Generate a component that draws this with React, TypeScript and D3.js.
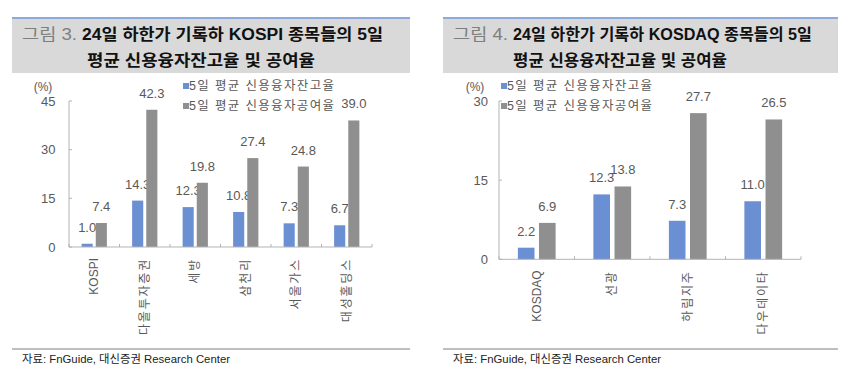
import React from "react";
import * as d3 from "d3";

const seriesNames = ["5일 평균 신용융자잔고율", "5일 평균 신용융자공여율"];
const seriesColors = ["#6b8fd3", "#8f8f8f"];

const kospiCategories = ["KOSPI", "다올투자증권", "세방", "삼천리", "서울가스", "대성홀딩스"];
const kospiBalance = [1.0, 14.3, 12.3, 10.8, 7.3, 6.7];
const kospiLending = [7.4, 42.3, 19.8, 27.4, 24.8, 39.0];
const kospiTicks = [0, 15, 30, 45];

const kosdaqCategories = ["KOSDAQ", "선광", "하림지주", "다우데이타"];
const kosdaqBalance = [2.2, 12.3, 7.3, 11.0];
const kosdaqLending = [6.9, 13.8, 27.7, 26.5];
const kosdaqTicks = [0, 15, 30];

const FONT = "'Liberation Sans', Arial, 'Noto Sans CJK KR', sans-serif";
const TXT = "#595959";
const AXIS = "#b3b3b3";

type PanelProps = {
  boxX: number;
  boxW: number;
  figLabel: string;
  title1: string;
  title2: string;
  titleX: number;
  title2X: number;
  t1Len: number;
  t2Len: number;
  categories: string[];
  balance: number[];
  lending: number[];
  ticks: number[];
  yMax: number;
  y0: number;
  yTop: number;
  xStart: number;
  xEnd: number;
  unitX: number;
  tickRight: number;
  legendX: number;
  sourceX: number;
};

const isLatin = (s: string) => /^[A-Za-z]+$/.test(s);

function Panel(p: PanelProps) {
  const y = d3.scaleLinear().domain([0, p.yMax]).range([p.y0, p.yTop]);
  const x0 = d3.scaleBand<string>().domain(p.categories).range([p.xStart, p.xEnd]).padding(0);
  const bw = x0.bandwidth();
  const x1 = d3
    .scaleBand<number>()
    .domain([0, 1])
    .range([bw * 0.25, bw * 0.75])
    .paddingInner(0.214)
    .paddingOuter(0);
  const series = [p.balance, p.lending];
  const boundaries = p.categories.map((c) => x0(c) as number).concat([p.xEnd]);

  return (
    <g>
      {/* title box */}
      <rect x={p.boxX} y={18} width={p.boxW} height={55} fill="#d9d9d9" />
      <line x1={p.boxX} x2={p.boxX + p.boxW} y1={18} y2={18} stroke="#8eaadb" strokeWidth={2} />
      <text
        x={p.boxX + 10}
        y={40}
        fontSize={16}
        fill="#7f7f7f"
        fontFamily={FONT}
        textLength={55}
        lengthAdjust="spacingAndGlyphs"
      >
        {p.figLabel}
      </text>
      <text
        x={p.titleX}
        y={40}
        fontSize={16}
        fontWeight="bold"
        fill="#111"
        fontFamily={FONT}
        textLength={p.t1Len}
        lengthAdjust="spacingAndGlyphs"
      >
        {p.title1}
      </text>
      <text
        x={p.title2X}
        y={66}
        fontSize={16}
        fontWeight="bold"
        fill="#111"
        fontFamily={FONT}
        textLength={p.t2Len}
        lengthAdjust="spacingAndGlyphs"
      >
        {p.title2}
      </text>

      {/* unit */}
      <text x={p.unitX} y={87} fontSize={12} fill={TXT} fontFamily={FONT} textAnchor="middle" dominantBaseline="central">
        (%)
      </text>

      {/* y ticks */}
      {p.ticks.map((t) => (
        <g key={t}>
          <text
            x={p.tickRight}
            y={y(t)}
            fontSize={13}
            fill={TXT}
            fontFamily={FONT}
            textAnchor="end"
            dominantBaseline="central"
          >
            {t}
          </text>
          <line x1={p.xStart} x2={p.xStart + 3} y1={y(t)} y2={y(t)} stroke={AXIS} />
        </g>
      ))}

      {/* bars */}
      {p.categories.map((c, i) => (
        <g key={c}>
          {series.map((s, si) => {
            const bx = (x0(c) as number) + (x1(si) as number);
            const v = s[i];
            return (
              <g key={si}>
                <rect x={bx} y={y(v)} width={x1.bandwidth()} height={y(0) - y(v)} fill={seriesColors[si]} />
                <text
                  x={bx + x1.bandwidth() / 2}
                  y={y(v) - 12}
                  fontSize={13}
                  fill={TXT}
                  fontFamily={FONT}
                  textAnchor="middle"
                >
                  {v.toFixed(1)}
                </text>
              </g>
            );
          })}
          <text
            transform={`translate(${(x0(c) as number) + bw / 2},${p.y0 + 11}) rotate(-90)`}
            fontSize={12}
            fill={TXT}
            fontFamily={FONT}
            textAnchor="end"
            dominantBaseline="central"
            letterSpacing={isLatin(c) ? 0 : 1.8}
          >
            {c}
          </text>
        </g>
      ))}

      {/* axes */}
      <line x1={p.xStart} x2={p.xStart} y1={y(p.yMax)} y2={p.y0} stroke={AXIS} />
      <line x1={p.xStart} x2={p.xEnd} y1={p.y0} y2={p.y0} stroke={AXIS} />
      {boundaries.map((b, i) => (
        <line key={i} x1={b} x2={b} y1={p.y0} y2={p.y0 - 3} stroke={AXIS} />
      ))}

      {/* legend */}
      {seriesNames.map((n, i) => (
        <g key={n}>
          <rect x={p.legendX} y={83 + i * 20} width={6} height={6} fill={seriesColors[i]} />
          <text
            x={p.legendX + 6}
            y={86 + i * 20}
            fontSize={12.5}
            fill={TXT}
            fontFamily={FONT}
            dominantBaseline="central"
            textLength={145}
            lengthAdjust="spacing"
          >
            {n}
          </text>
        </g>
      ))}

      {/* source */}
      <line x1={p.boxX} x2={p.boxX + p.boxW} y1={349} y2={349} stroke="#7f7f7f" strokeWidth={1} />
      <text
        x={p.sourceX}
        y={363}
        fontSize={11}
        fill="#222"
        fontFamily={FONT}
        textLength={208}
        lengthAdjust="spacingAndGlyphs"
      >
        자료: FnGuide, 대신증권 Research Center
      </text>
    </g>
  );
}

export default function App() {
  return (
    <svg
      width={850}
      height={376}
      style={{ position: "absolute", left: 0, top: 0, background: "#fff" }}
    >
      <rect width={850} height={376} fill="#fff" />
      <Panel
        boxX={12}
        boxW={398}
        figLabel="그림 3."
        title1="24일 하한가 기록하 KOSPI 종목들의 5일"
        title2="평균 신용융자잔고율 및 공여율"
        titleX={82}
        title2X={87}
        t1Len={301}
        t2Len={228}
        categories={kospiCategories}
        balance={kospiBalance}
        lending={kospiLending}
        ticks={kospiTicks}
        yMax={45}
        y0={247}
        yTop={101}
        xStart={69}
        xEnd={372}
        unitX={43}
        tickRight={55.5}
        legendX={183}
        sourceX={22}
      />
      <Panel
        boxX={443}
        boxW={395}
        figLabel="그림 4."
        title1="24일 하한가 기록하 KOSDAQ 종목들의 5일"
        title2="평균 신용융자잔고율 및 공여율"
        titleX={513}
        title2X={513}
        t1Len={299}
        t2Len={214}
        categories={kosdaqCategories}
        balance={kosdaqBalance}
        lending={kosdaqLending}
        ticks={kosdaqTicks}
        yMax={30}
        y0={259.3}
        yTop={101}
        xStart={499}
        xEnd={801}
        unitX={475}
        tickRight={488}
        legendX={501}
        sourceX={453}
      />
    </svg>
  );
}
